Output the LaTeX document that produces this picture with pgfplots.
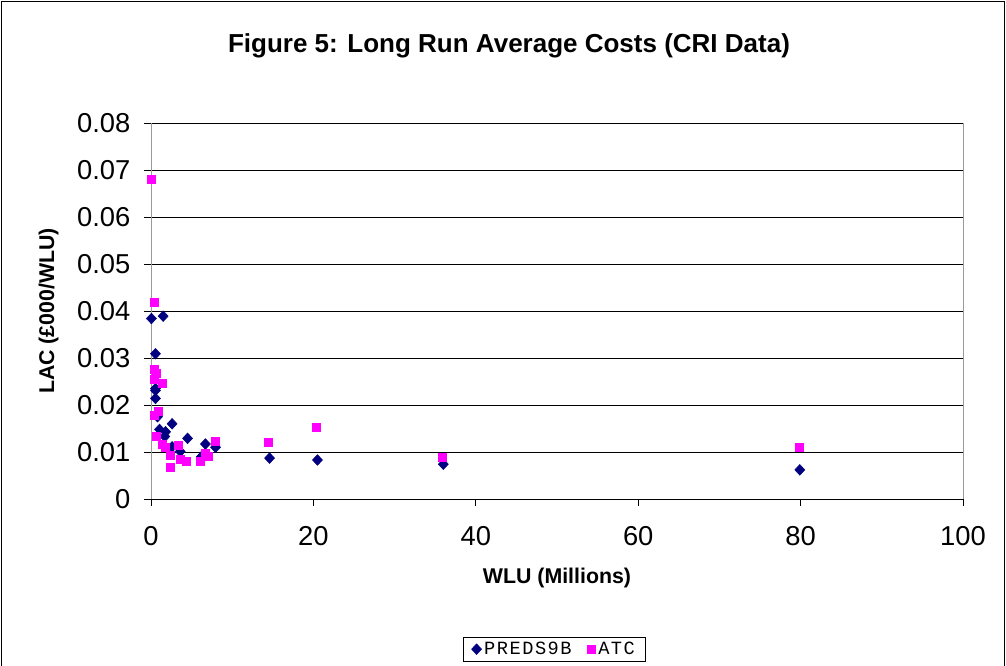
\documentclass[border=0pt]{standalone}
\usepackage{pgfplots}
\pgfplotsset{compat=1.18}
\usepackage{fontspec}
\setmainfont{Liberation Sans}
\newfontfamily\monofont[LetterSpace=8]{Liberation Mono}
\definecolor{navyblue}{HTML}{000080}
\definecolor{atcpink}{HTML}{FF00FF}
\begin{document}
\begin{tikzpicture}[x=0.75pt,y=0.75pt]
\useasboundingbox (0,0) rectangle (1006,666);
\draw[black, line width=0.75pt] (1.5,-10) rectangle (1004.5,664.5);
\node[font=\bfseries\fontsize{19.5}{22}\selectfont] at (509,620) {Figure 5: Long Run Average Costs (CRI Data)};
\begin{axis}[
    at={(113.25pt,125.25pt)}, anchor=south west,
    scale only axis,
    width=609pt, height=282pt,
    xmin=0, xmax=100, ymin=0, ymax=0.08,
    xtick={0,20,...,100},
    ytick={0,0.01,...,0.08},
    scaled y ticks=false,
    yticklabel style={/pgf/number format/fixed, /pgf/number format/precision=2, xshift=-7pt},
    xticklabel style={yshift=-12pt},
    /pgf/number format/assume math mode=true,
    tick label style={font=\fontsize{20.5}{22}\selectfont},
    xlabel={\bfseries WLU (Millions)},
    ylabel={\bfseries LAC (£000/WLU)},
    label style={font=\fontsize{16}{18}\selectfont},
    xlabel style={yshift=-10pt},
    ylabel style={yshift=7pt},
    axis line style={draw=gray!80},
    separate axis lines,
    x axis line style={draw=black},
    ymajorgrids, grid style={black, line width=0.6pt},
    tick align=outside, tick style={black, line width=0.6pt},
    major tick length=5pt,
    xtick pos=bottom, ytick pos=left,
    legend style={at={(0.497,-0.367)}, anchor=north, legend columns=-1,
        font=\monofont\fontsize{14}{15}\selectfont, draw=black,
        inner ysep=1.5pt, inner xsep=6pt,
        /tikz/every even column/.append style={column sep=10pt}},
    legend cell align=left,
]
\addplot[only marks, mark=diamond*, mark size=4pt, mark options={draw=navyblue, fill=navyblue, xscale=1.25}] coordinates {
    (0.05,0.0384) (1.5,0.0389) (0.55,0.0309) (0.55,0.0235) (0.55,0.0231)
    (0.55,0.0214) (0.8,0.0175) (1.05,0.0148) (1.8,0.0143) (1.7,0.0133)
    (2.6,0.0160) (4.5,0.0129) (2.6,0.0111) (3.6,0.0101) (6.7,0.0117)
    (7.95,0.0110) (6.2,0.0090) (6.6,0.0091) (14.6,0.0087) (20.5,0.0083)
    (36.0,0.0074) (79.9,0.0062)
};
\addlegendentry{PREDS9B}
\addplot[only marks, mark=square*, mark size=3pt, mark options={draw=atcpink, fill=atcpink}] coordinates {
    (0.0,0.0680) (0.4,0.0418) (0.4,0.0277) (0.7,0.0268) (0.4,0.0255)
    (1.4,0.0247) (0.9,0.0187) (0.4,0.0179) (0.6,0.0133) (1.4,0.0117)
    (1.7,0.0111) (3.4,0.0115) (2.4,0.0094) (2.4,0.0067) (3.6,0.0084)
    (4.4,0.0081) (6.1,0.0081) (6.7,0.0097) (7.1,0.0090) (7.9,0.0123)
    (14.5,0.0120) (20.4,0.0153) (35.9,0.0089) (79.8,0.0111)
};
\addlegendentry{ATC}
\end{axis}
\end{tikzpicture}
\end{document}
